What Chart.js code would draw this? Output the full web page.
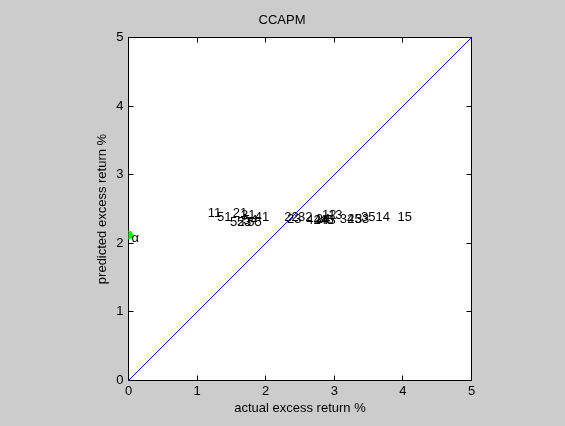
<!DOCTYPE html>
<html>
<head>
<meta charset="utf-8">
<script src="https://cdn.jsdelivr.net/npm/chart.js@4"></script>
<style>
  html, body { margin: 0; padding: 0; background: #cccccc; }
  #wrap { width: 565px; height: 426px; }
</style>
</head>
<body>
<div id="wrap"><canvas id="capm"></canvas></div>
<script>
// portfolio labels (size/value quintiles) and their actual vs predicted excess returns
const portfolios = ['11','12','13','14','15','21','22','23','24','25','31','32','33','34','35',
                    '41','42','43','44','45','51','52','53','54','55'];
const actualRet = [1.155, 2.82, 2.91, 3.60, 3.92, 1.52, 2.27, 2.31, 2.73, 3.19, 1.64, 2.47, 3.30, 3.08, 3.39,
                   1.84, 2.59, 2.81, 2.70, 2.78, 1.29, 1.48, 1.58, 1.67, 1.73];
const predictedRet = [2.43, 2.41, 2.40, 2.37, 2.38, 2.43, 2.37, 2.35, 2.35, 2.35, 2.40, 2.37, 2.35, 2.35, 2.37,
                      2.37, 2.34, 2.34, 2.33, 2.33, 2.37, 2.31, 2.31, 2.33, 2.31];
const alphaPoint = { x: 0, y: 2.12 };
const diagLine = [0, 5];

const font = 'Arial, "Liberation Sans", sans-serif';

// white axes box with inside tick marks, drawn under the data
const matlabAxes = {
  id: 'matlabAxes',
  beforeDatasetsDraw(chart) {
    const { ctx, chartArea: a, scales } = chart;
    const xs = scales.x, ys = scales.y;
    ctx.save();
    ctx.fillStyle = '#ffffff';
    ctx.fillRect(a.left, a.top, a.right - a.left, a.bottom - a.top);
    ctx.strokeStyle = '#000';
    ctx.lineWidth = 1;
    ctx.beginPath();
    xs.ticks.forEach(t => {
      const px = Math.floor(xs.getPixelForValue(t.value)) + 0.5;
      ctx.moveTo(px, a.bottom); ctx.lineTo(px, a.bottom - 5);
      ctx.moveTo(px, a.top); ctx.lineTo(px, a.top + 5);
    });
    ys.ticks.forEach(t => {
      const py = Math.floor(ys.getPixelForValue(t.value)) + 0.5;
      ctx.moveTo(a.left, py); ctx.lineTo(a.left + 5, py);
      ctx.moveTo(a.right, py); ctx.lineTo(a.right - 5, py);
    });
    ctx.stroke();
    ctx.beginPath();
    ctx.rect(Math.floor(a.left) + 0.5, Math.floor(a.top) + 0.5,
             Math.round(a.right - a.left), Math.round(a.bottom - a.top));
    ctx.stroke();
    ctx.beginPath();
    ctx.restore();
  }
};

// portfolio numbers written at their points
const pointText = {
  id: 'pointText',
  afterDraw(chart) {
    const { ctx, scales } = chart;
    const xs = scales.x, ys = scales.y;
    ctx.save();
    ctx.fillStyle = '#000';
    ctx.font = '13px ' + font;
    ctx.textAlign = 'left';
    ctx.textBaseline = 'middle';
    portfolios.forEach((p, i) => {
      ctx.fillText(p, xs.getPixelForValue(actualRet[i]), ys.getPixelForValue(predictedRet[i]));
    });
    ctx.fillText('\u03b1', xs.getPixelForValue(alphaPoint.x) + 3, ys.getPixelForValue(alphaPoint.y) + 3);
    ctx.restore();
  }
};

new Chart(document.getElementById('capm'), {
  type: 'scatter',
  data: {
    datasets: [
      {
        data: [alphaPoint],
        backgroundColor: '#00ff00',
        borderColor: '#00ff00',
        pointRadius: 4
      },
      {
        data: diagLine.map(v => ({ x: v, y: v })),
        showLine: true,
        borderColor: '#0000ff',
        backgroundColor: '#0000ff',
        borderWidth: 1,
        pointRadius: 0
      }
    ]
  },
  plugins: [matlabAxes, pointText],
  options: {
    responsive: true,
    maintainAspectRatio: false,
    animation: false,
    events: [],
    layout: { padding: { left: 92.5, right: 93.5, top: 0, bottom: 0 } },
    plugins: {
      legend: { display: false },
      tooltip: { enabled: false },
      title: {
        display: true,
        text: 'CCAPM',
        color: '#000',
        font: { family: font, size: 13, weight: 'normal' },
        padding: { top: 13, bottom: 8.9 }
      }
    },
    scales: {
      x: {
        type: 'linear',
        min: 0, max: 5,
        afterFit(s) { s.height = 45.5; },
        ticks: { stepSize: 1, color: '#000', padding: 3, font: { family: font, size: 13 } },
        grid: { display: false, drawTicks: false },
        border: { display: false },
        title: { display: true, text: 'actual excess return %', color: '#000',
                 font: { family: font, size: 13 }, padding: { top: 1, bottom: 10 } }
      },
      y: {
        type: 'linear',
        min: 0, max: 5,
        afterFit(s) { s.width = 36; },
        ticks: { stepSize: 1, color: '#000', padding: 5, font: { family: font, size: 13 } },
        grid: { display: false, drawTicks: false },
        border: { display: false },
        title: { display: true, text: 'predicted excess return %', color: '#000',
                 font: { family: font, size: 13 }, padding: { top: 2.5, bottom: 0 } }
      }
    }
  }
});
</script>
</body>
</html>
